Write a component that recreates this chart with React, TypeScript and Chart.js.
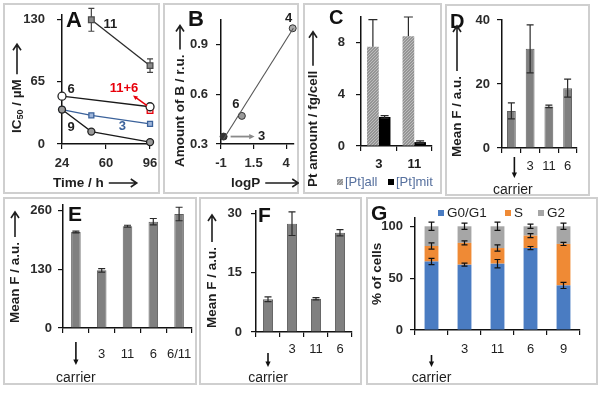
import React, { useEffect, useRef } from "react";
import { Chart, registerables } from "chart.js";

Chart.register(...registerables);

const FONT = '"Liberation Sans", Arial, Helvetica, sans-serif';
const INK = "#1e1e1e";
const TICK_INK = "#2b2b2b";
const CARRIER = "carrier";

// ---------- Panel A : IC50 vs time ----------
const aTime11 = [48, 96];
const aIC11 = [130, 82];
const aErr11 = [12, 7];
const aTime6 = [24, 96];
const aIC6 = [50, 39];
const aTime116 = [96];
const aIC116 = [35];
const aTime3 = [24, 48, 96];
const aIC3 = [36, 30, 21];
const aTime9 = [24, 48, 96];
const aIC9 = [36, 13, 2];
const aXTicks = [24, 60, 96];
const aYTicks = [0, 65, 130];

// ---------- Panel B : amount of B vs logP ----------
const bNames = ["3", "6", "4"];
const bLogP = [-0.8, 0.6, 4.5];
const bAmount = [0.345, 0.47, 1.0];
const bFitLogP = [-0.8, 4.55];
const bFitAmount = [0.33, 1.0];
const bXTicks = [-1, 1.5, 4];
const bYTicks = [0.3, 0.6, 0.9];

// ---------- Panel C : Pt amount ----------
const cCats = ["3", "11"];
const cSeries = ["[Pt]all", "[Pt]mit"];
const cPtAll = [7.7, 8.5];
const cPtAllErr = [2.1, 1.5];
const cPtMit = [2.25, 0.3];
const cPtMitErr = [0.1, 0.1];
const cYTicks = [0, 4, 8];

// ---------- Panel D ----------
const dCats = [CARRIER, "3", "11", "6"];
const dMeanF = [11.6, 31, 13, 18.7];
const dErr = [2.5, 7.5, 0.4, 2.8];
const dYTicks = [0, 20, 40];

// ---------- Panel E ----------
const eCats = [CARRIER, "3", "11", "6", "6/11"];
const eMeanF = [213, 128, 226, 236, 253];
const eErr = [2, 4, 2, 7, 15];
const eYTicks = [0, 130, 260];

// ---------- Panel F ----------
const fCats = [CARRIER, "3", "11", "6"];
const fMeanF = [8.3, 27.4, 8.4, 25.1];
const fErr = [0.6, 3, 0.3, 0.8];
const fYTicks = [0, 15, 30];

// ---------- Panel G : cell cycle ----------
const gCats = [CARRIER, "3", "11", "6", "9"];
const gSeries = ["G0/G1", "S", "G2"];
const gG0G1 = [66, 63, 64, 79, 43];
const gS = [15, 21, 15, 12, 40];
const gG2 = [19, 16, 21, 9, 17];
const gErrG0G1 = [3, 1.5, 4, 1.5, 3];
const gErrS = [3, 2, 3, 2, 1.5];
const gErrG2 = [4, 3, 4, 2, 3];
const gYTicks = [0, 50, 100];

// ---------- helpers ----------
type Box = { x: number; y: number; w: number; h: number };
type Area = { l: number; t: number; r: number; b: number };

const fnt = (size: number, bold = true) => `${bold ? "bold " : ""}${size}px ${FONT}`;

function zeroPad(s: any) {
  s.paddingLeft = 0;
  s.paddingRight = 0;
  s.paddingTop = 0;
  s.paddingBottom = 0;
}

const yWidth = (box: Box, area: Area) => area.l - box.x - 2;
const xHeight = (box: Box, area: Area) => box.y + box.h - area.b - 2;

function yAxis(min: number, max: number, ticks: number[], yw: number, pad: number, stacked = false) {
  return {
    type: "linear",
    position: "left",
    stacked,
    min,
    max,
    afterBuildTicks: (s: any) => {
      s.ticks = ticks.map((v) => ({ value: v }));
    },
    afterFit: (s: any) => {
      s.width = yw;
      zeroPad(s);
    },
    border: { display: true, color: "#111", width: 1.5 },
    grid: { drawOnChartArea: false, drawTicks: true, tickLength: 5, color: "#111", lineWidth: 1.2 },
    ticks: {
      padding: pad,
      color: TICK_INK,
      font: { family: FONT, size: 13, weight: "bold" },
      autoSkip: false,
      callback: (v: any) => String(v),
    },
  };
}

function xLin(min: number, max: number, ticks: number[], xh: number, pad: number) {
  return {
    type: "linear",
    position: "bottom",
    min,
    max,
    afterBuildTicks: (s: any) => {
      s.ticks = ticks.map((v) => ({ value: v }));
    },
    afterFit: (s: any) => {
      s.height = xh;
      zeroPad(s);
    },
    border: { display: true, color: "#111", width: 1.5 },
    grid: { drawOnChartArea: false, drawTicks: true, tickLength: 5, color: "#111", lineWidth: 1.2 },
    ticks: {
      padding: pad,
      color: TICK_INK,
      font: { family: FONT, size: 13, weight: "bold" },
      autoSkip: false,
      maxRotation: 0,
      callback: (v: any) => String(v),
    },
  };
}

function xCat(cats: string[], xh: number, pad: number, bold = false, stacked = false) {
  return {
    type: "category",
    position: "bottom",
    stacked,
    afterFit: (s: any) => {
      s.height = xh;
      zeroPad(s);
    },
    border: { display: true, color: "#111", width: 1.5 },
    grid: { drawOnChartArea: false, drawTicks: true, tickLength: 5, color: "#111", lineWidth: 1.2, offset: true },
    ticks: {
      padding: pad,
      color: INK,
      font: { family: FONT, size: 13, weight: bold ? "bold" : "normal" },
      autoSkip: false,
      maxRotation: 0,
      callback: (_v: any, i: number) => (cats[i] === CARRIER ? "" : cats[i]),
    },
  };
}

function baseOptions(box: Box, area: Area) {
  const yw = yWidth(box, area);
  const xh = xHeight(box, area);
  return {
    responsive: false,
    animation: false,
    events: [],
    layout: {
      padding: {
        left: area.l - box.x - yw,
        top: area.t - box.y,
        right: box.x + box.w - area.r,
        bottom: box.y + box.h - area.b - xh,
      },
    },
    plugins: { legend: { display: false }, tooltip: { enabled: false }, title: { display: false } },
  };
}

type DrawFn = (ctx: CanvasRenderingContext2D, chart: any, box: Box) => void;

function annot(box: Box, after: DrawFn, before?: DrawFn) {
  return {
    id: "annot",
    beforeDatasetsDraw(chart: any) {
      if (!before) return;
      const ctx = chart.ctx;
      ctx.save();
      ctx.translate(-box.x, -box.y);
      before(ctx, chart, box);
      ctx.restore();
    },
    afterDraw(chart: any) {
      const ctx = chart.ctx;
      ctx.save();
      ctx.translate(-box.x, -box.y);
      after(ctx, chart, box);
      ctx.restore();
    },
  };
}

const PX = (chart: any, box: Box) => (v: number) => chart.scales.x.getPixelForValue(v) + box.x;
const PY = (chart: any, box: Box) => (v: number) => chart.scales.y.getPixelForValue(v) + box.y;

function drawText(
  ctx: CanvasRenderingContext2D,
  s: string,
  x: number,
  y: number,
  size: number,
  bold = true,
  color = INK,
  align: CanvasTextAlign = "center"
) {
  ctx.font = fnt(size, bold);
  ctx.fillStyle = color;
  ctx.textAlign = align;
  ctx.textBaseline = "middle";
  ctx.fillText(s, x, y);
}

function letter(ctx: CanvasRenderingContext2D, s: string, x: number, yBase: number, size = 22) {
  ctx.font = fnt(size, true);
  ctx.fillStyle = "#111";
  ctx.textAlign = "left";
  ctx.textBaseline = "alphabetic";
  ctx.fillText(s, x, yBase);
}

function arrow(
  ctx: CanvasRenderingContext2D,
  x1: number,
  y1: number,
  x2: number,
  y2: number,
  color: string,
  lw: number,
  head = 5
) {
  const ang = Math.atan2(y2 - y1, x2 - x1);
  ctx.strokeStyle = color;
  ctx.fillStyle = color;
  ctx.lineWidth = lw;
  ctx.beginPath();
  ctx.moveTo(x1, y1);
  ctx.lineTo(x2 - Math.cos(ang) * head * 0.8, y2 - Math.sin(ang) * head * 0.8);
  ctx.stroke();
  ctx.beginPath();
  ctx.moveTo(x2, y2);
  ctx.lineTo(x2 - Math.cos(ang - 0.45) * head, y2 - Math.sin(ang - 0.45) * head);
  ctx.lineTo(x2 - Math.cos(ang + 0.45) * head, y2 - Math.sin(ang + 0.45) * head);
  ctx.closePath();
  ctx.fill();
}

type Part = [string, number, number];

function titleRun(ctx: CanvasRenderingContext2D, parts: Part[], arrowLen: number) {
  let cx = 0;
  ctx.fillStyle = INK;
  ctx.textAlign = "left";
  ctx.textBaseline = "middle";
  for (const [s, size, dy] of parts) {
    ctx.font = fnt(size, true);
    ctx.fillText(s, cx, dy);
    cx += ctx.measureText(s).width;
  }
  if (arrowLen > 0) {
    const a = cx + 5;
    const b = a + arrowLen;
    ctx.strokeStyle = INK;
    ctx.lineWidth = 1.6;
    ctx.beginPath();
    ctx.moveTo(a, 0);
    ctx.lineTo(b, 0);
    ctx.moveTo(b - 6, -4);
    ctx.lineTo(b, 0);
    ctx.lineTo(b - 6, 4);
    ctx.stroke();
  }
}

function vTitle(ctx: CanvasRenderingContext2D, parts: Part[], x: number, yBottom: number, arrowLen: number) {
  ctx.save();
  ctx.translate(x, yBottom);
  ctx.rotate(-Math.PI / 2);
  titleRun(ctx, parts, arrowLen);
  ctx.restore();
}

function hTitle(ctx: CanvasRenderingContext2D, parts: Part[], x: number, y: number, arrowLen: number) {
  ctx.save();
  ctx.translate(x, y);
  titleRun(ctx, parts, arrowLen);
  ctx.restore();
}

function errBar(
  ctx: CanvasRenderingContext2D,
  x: number,
  yHi: number,
  yLo: number,
  cap: number,
  color = "#2a2a2a",
  lw = 1.2,
  lowCap = true
) {
  ctx.strokeStyle = color;
  ctx.lineWidth = lw;
  ctx.beginPath();
  ctx.moveTo(x, yHi);
  ctx.lineTo(x, yLo);
  ctx.moveTo(x - cap / 2, yHi);
  ctx.lineTo(x + cap / 2, yHi);
  if (lowCap) {
    ctx.moveTo(x - cap / 2, yLo);
    ctx.lineTo(x + cap / 2, yLo);
  }
  ctx.stroke();
}

function barErrors(
  ctx: CanvasRenderingContext2D,
  chart: any,
  box: Box,
  ds: number,
  errs: number[],
  cap: number,
  upOnly = false,
  color = "#2a2a2a"
) {
  const ys = chart.scales.y;
  const ppu = ys.getPixelForValue(0) - ys.getPixelForValue(1);
  chart.getDatasetMeta(ds).data.forEach((el: any, i: number) => {
    const x = el.x + box.x;
    const y = el.y + box.y;
    const e = errs[i] * ppu;
    if (upOnly) errBar(ctx, x, y - e, y, cap, color, 1.2, false);
    else errBar(ctx, x, y - e, y + e, cap, color, 1.2, true);
  });
}

function carrier(
  ctx: CanvasRenderingContext2D,
  chart: any,
  box: Box,
  cats: string[],
  yTop: number,
  yBot: number,
  textY: number,
  dx = 0
) {
  const i = cats.indexOf(CARRIER);
  const x = chart.scales.x.getPixelForValue(i) + box.x + dx;
  arrow(ctx, x, yTop, x, yBot, "#111", 1.6, 6);
  drawText(ctx, cats[i], x - dx / 2, textY, 14, false, INK);
}

let stippleCache: CanvasPattern | null = null;
function stipple(): CanvasPattern {
  if (stippleCache) return stippleCache;
  const c = document.createElement("canvas");
  c.width = 3;
  c.height = 3;
  const g = c.getContext("2d")!;
  g.fillStyle = "#959595";
  g.fillRect(0, 0, 3, 3);
  g.fillStyle = "#bdbdbd";
  g.fillRect(0, 0, 1, 1);
  g.fillRect(2, 1, 1, 1);
  g.fillRect(1, 2, 1, 1);
  stippleCache = g.createPattern(c, "repeat")!;
  return stippleCache;
}

const pts = (xs: number[], ys: number[]) => xs.map((x, i) => ({ x, y: ys[i] }));

// ---------- panel geometry ----------
const BOX_A: Box = { x: 3, y: 3, w: 157, h: 191 };
const BOX_B: Box = { x: 163, y: 3, w: 136, h: 191 };
const BOX_C: Box = { x: 303, y: 3, w: 139, h: 191 };
const BOX_D: Box = { x: 445, y: 4, w: 145, h: 192 };
const BOX_E: Box = { x: 3, y: 197, w: 194, h: 188 };
const BOX_F: Box = { x: 199, y: 197, w: 163, h: 188 };
const BOX_G: Box = { x: 366, y: 197, w: 232, h: 188 };

const AREA_A: Area = { l: 62, t: 15, r: 152, b: 144 };
const AREA_B: Area = { l: 221, t: 20, r: 295, b: 144 };
const AREA_C: Area = { l: 361, t: 17, r: 432, b: 146 };
const AREA_D: Area = { l: 502, t: 20, r: 577, b: 148 };
const AREA_E: Area = { l: 63, t: 205, r: 192, b: 328 };
const AREA_F: Area = { l: 256, t: 211, r: 352, b: 332 };
const AREA_G: Area = { l: 415, t: 218, r: 580, b: 330 };

// ---------- configs ----------
function configA(): any {
  const box = BOX_A;
  const area = AREA_A;
  return {
    type: "scatter",
    data: {
      datasets: [
        {
          data: pts(aTime9, aIC9),
          showLine: true,
          borderColor: "#1a1a1a",
          borderWidth: 1.3,
          pointStyle: "circle",
          pointRadius: 3.5,
          pointBackgroundColor: "#9a9a9a",
          pointBorderColor: "#222",
          clip: false,
        },
        {
          data: pts(aTime3, aIC3),
          showLine: true,
          borderColor: "#3b629b",
          borderWidth: 1.3,
          pointStyle: "rect",
          pointRadius: 3.5,
          pointBackgroundColor: "#9fb6da",
          pointBorderColor: "#3b629b",
          clip: false,
        },
        {
          data: pts(aTime6, aIC6),
          showLine: true,
          borderColor: "#1a1a1a",
          borderWidth: 1.3,
          pointStyle: "circle",
          pointRadius: 4,
          pointBackgroundColor: "#ffffff",
          pointBorderColor: "#222",
          clip: false,
        },
        {
          data: pts(aTime116, aIC116),
          showLine: false,
          pointStyle: "rect",
          pointRadius: 4,
          pointBackgroundColor: "#f6d2d2",
          pointBorderColor: "#e8000b",
          pointBorderWidth: 1.3,
          clip: false,
        },
        {
          data: pts(aTime11, aIC11),
          showLine: true,
          borderColor: "#2b2b2b",
          borderWidth: 1.3,
          pointStyle: "rect",
          pointRadius: 4,
          pointBackgroundColor: "#8a8a8a",
          pointBorderColor: "#4a4a4a",
          clip: false,
        },
      ],
    },
    options: {
      ...baseOptions(box, area),
      scales: {
        x: xLin(24, 97.6, aXTicks, xHeight(box, area), 7),
        y: yAxis(0, 135, aYTicks, yWidth(box, area), 12),
      },
    },
    plugins: [
      annot(
        box,
        (ctx, chart, b) => {
          const X = PX(chart, b);
          const Y = PY(chart, b);
          letter(ctx, "A", 66, 27);
          vTitle(ctx, [["IC", 13.5, 0], ["50", 9, 4], [" / µM", 13.5, 0]], 17, 133, 30);
          hTitle(ctx, [["Time / h", 13.5, 0]], 53, 183, 28);
          drawText(ctx, "11", X(aTime11[0]) + 19, Y(aIC11[0]) + 5, 13);
          drawText(ctx, "6", X(aTime6[0]) + 9, Y(aIC6[0]) - 7, 13);
          drawText(ctx, "3", X(aTime3[1]) + 31, Y(aIC3[1]) + 11, 13, true, "#3b629b");
          drawText(ctx, "9", X(aTime9[0]) + 9, Y(aIC9[0]) + 18, 13);
          const rx = X(aTime116[0]);
          const ry = Y(aIC116[0]);
          drawText(ctx, "11+6", rx - 26, ry - 22, 13, true, "#e8000b");
          arrow(ctx, rx - 3, ry - 5, rx - 17, ry - 15, "#e8000b", 1.5, 5);
        },
        (ctx, chart, b) => {
          const X = PX(chart, b);
          const Y = PY(chart, b);
          aTime11.forEach((t, i) =>
            errBar(ctx, X(t), Y(aIC11[i] + aErr11[i]), Y(aIC11[i] - aErr11[i]), 6, "#444")
          );
        }
      ),
    ],
  };
}

function configB(): any {
  const box = BOX_B;
  const area = AREA_B;
  return {
    type: "scatter",
    data: {
      datasets: [
        {
          data: pts(bFitLogP, bFitAmount),
          showLine: true,
          borderColor: "#555",
          borderWidth: 1.1,
          pointRadius: 0,
          clip: false,
        },
        {
          data: pts(bLogP, bAmount),
          showLine: false,
          pointStyle: "circle",
          pointRadius: 3.5,
          pointBackgroundColor: ["#333", "#9a9a9a", "#aaaaaa"],
          pointBorderColor: "#333",
          pointBorderWidth: 1,
          clip: false,
        },
      ],
    },
    options: {
      ...baseOptions(box, area),
      scales: {
        x: xLin(-1, 4.6, bXTicks, xHeight(box, area), 7),
        y: yAxis(0.3, 1.05, bYTicks, yWidth(box, area), 8),
      },
    },
    plugins: [
      annot(box, (ctx, chart, b) => {
        const X = PX(chart, b);
        const Y = PY(chart, b);
        letter(ctx, "B", 188, 26);
        vTitle(ctx, [["Amount of B / r.u.", 13.5, 0]], 180, 167, 24);
        hTitle(ctx, [["logP", 13.5, 0]], 231, 183, 33);
        arrow(ctx, X(bLogP[0]) + 7, Y(bAmount[0]), X(bLogP[0]) + 31, Y(bAmount[0]), "#8a8a8a", 1.8, 6);
        drawText(ctx, bNames[0], X(bLogP[0]) + 38, Y(bAmount[0]), 13);
        drawText(ctx, bNames[1], X(bLogP[1]) - 6, Y(bAmount[1]) - 11, 13);
        drawText(ctx, bNames[2], X(bLogP[2]) - 4, Y(bAmount[2]) - 10, 13);
      }),
    ],
  };
}

function configC(): any {
  const box = BOX_C;
  const area = AREA_C;
  return {
    type: "bar",
    data: {
      labels: cCats,
      datasets: [
        { label: cSeries[0], data: cPtAll, backgroundColor: stipple(), categoryPercentage: 0.66, barPercentage: 1 },
        { label: cSeries[1], data: cPtMit, backgroundColor: "#000", categoryPercentage: 0.66, barPercentage: 1 },
      ],
    },
    options: {
      ...baseOptions(box, area),
      scales: {
        x: xCat(cCats, xHeight(box, area), 6, true),
        y: yAxis(0, 10, cYTicks, yWidth(box, area), 11),
      },
    },
    plugins: [
      annot(box, (ctx, chart, b) => {
        letter(ctx, "C", 329, 24, 20);
        vTitle(ctx, [["Pt amount / fg/cell", 13.5, 0]], 313, 187, 34);
        barErrors(ctx, chart, b, 0, cPtAllErr, 9, true);
        barErrors(ctx, chart, b, 1, cPtMitErr, 8);
        ctx.fillStyle = stipple();
        ctx.fillRect(337, 179, 6, 6);
        drawText(ctx, cSeries[0], 345, 182, 13, false, "#56709e", "left");
        ctx.fillStyle = "#000";
        ctx.fillRect(388, 179, 6, 6);
        drawText(ctx, cSeries[1], 396, 182, 13, false, "#56709e", "left");
      }),
    ],
  };
}

function simpleBar(
  box: Box,
  area: Area,
  cats: string[],
  vals: number[],
  errs: number[],
  ymax: number,
  yTicks: number[],
  yPad: number,
  xPad: number,
  pct: number,
  draw: DrawFn
): any {
  return {
    type: "bar",
    data: {
      labels: cats,
      datasets: [
        {
          data: vals,
          backgroundColor: "#808080",
          borderColor: "#606060",
          borderWidth: 1,
          categoryPercentage: 1,
          barPercentage: pct,
        },
      ],
    },
    options: {
      ...baseOptions(box, area),
      scales: {
        x: xCat(cats, xHeight(box, area), xPad),
        y: yAxis(0, ymax, yTicks, yWidth(box, area), yPad),
      },
    },
    plugins: [
      annot(box, (ctx, chart, b) => {
        barErrors(ctx, chart, b, 0, errs, 7);
        draw(ctx, chart, b);
      }),
    ],
  };
}

function configD(): any {
  return simpleBar(BOX_D, AREA_D, dCats, dMeanF, dErr, 40, dYTicks, 7, 6, 0.47, (ctx, chart, b) => {
    letter(ctx, "D", 450, 28, 20);
    vTitle(ctx, [["Mean F / a.u.", 13.5, 0]], 457, 157, 45);
    carrier(ctx, chart, b, dCats, 157, 178, 190, 3);
  });
}

function configE(): any {
  return simpleBar(BOX_E, AREA_E, eCats, eMeanF, eErr, 273, eYTicks, 6, 14, 0.37, (ctx, chart, b) => {
    letter(ctx, "E", 68, 221, 21);
    vTitle(ctx, [["Mean F / a.u.", 13.5, 0]], 15, 323, 25);
    carrier(ctx, chart, b, eCats, 342, 365, 378);
  });
}

function configF(): any {
  return simpleBar(BOX_F, AREA_F, fCats, fMeanF, fErr, 30.6, fYTicks, 9, 5, 0.42, (ctx, chart, b) => {
    letter(ctx, "F", 258, 222, 21);
    vTitle(ctx, [["Mean F / a.u.", 13.5, 0]], 212, 328, 27);
    carrier(ctx, chart, b, fCats, 353, 367, 378);
  });
}

function configG(): any {
  const box = BOX_G;
  const area = AREA_G;
  const colors = ["#4a7cc2", "#ef8a35", "#a6a6a6"];
  const vals = [gG0G1, gS, gG2];
  return {
    type: "bar",
    data: {
      labels: gCats,
      datasets: vals.map((v, i) => ({
        label: gSeries[i],
        data: v,
        backgroundColor: colors[i],
        categoryPercentage: 1,
        barPercentage: 0.42,
      })),
    },
    options: {
      ...baseOptions(box, area),
      scales: {
        x: xCat(gCats, xHeight(box, area), 7, false, true),
        y: yAxis(0, 108, gYTicks, yWidth(box, area), 7, true),
      },
    },
    plugins: [
      annot(box, (ctx, chart, b) => {
        barErrors(ctx, chart, b, 0, gErrG0G1, 6, false, "#111");
        barErrors(ctx, chart, b, 1, gErrS, 6, false, "#111");
        barErrors(ctx, chart, b, 2, gErrG2, 6, false, "#111");
        letter(ctx, "G", 371, 220, 21);
        vTitle(ctx, [["% of cells", 13.5, 0]], 377, 305, 0);
        const lx = [438, 505, 538];
        gSeries.forEach((s, i) => {
          ctx.fillStyle = colors[i];
          ctx.fillRect(lx[i], 210, 6, 6);
          drawText(ctx, s, lx[i] + 9, 213, 13.5, false, INK, "left");
        });
        carrier(ctx, chart, b, gCats, 355, 367, 378);
      }),
    ],
  };
}

// ---------- React ----------
function Panel({ box, make }: { box: Box; make: () => any }) {
  const ref = useRef<HTMLCanvasElement>(null);
  useEffect(() => {
    const chart = new Chart(ref.current as HTMLCanvasElement, make());
    return () => chart.destroy();
  }, []);
  return (
    <canvas
      ref={ref}
      width={box.w}
      height={box.h}
      style={{ position: "absolute", left: box.x, top: box.y, width: box.w, height: box.h }}
    />
  );
}

const PANELS: { box: Box; make: () => any }[] = [
  { box: BOX_A, make: configA },
  { box: BOX_B, make: configB },
  { box: BOX_C, make: configC },
  { box: BOX_D, make: configD },
  { box: BOX_E, make: configE },
  { box: BOX_F, make: configF },
  { box: BOX_G, make: configG },
];

export default function App() {
  return (
    <div
      style={{
        position: "absolute",
        left: 0,
        top: 0,
        width: 600,
        height: 393,
        background: "#fff",
        overflow: "hidden",
      }}
    >
      {PANELS.map((p, i) => (
        <div
          key={"b" + i}
          style={{
            position: "absolute",
            left: p.box.x,
            top: p.box.y,
            width: p.box.w,
            height: p.box.h,
            border: "2px solid #cfcfcf",
            boxSizing: "border-box",
          }}
        />
      ))}
      {PANELS.map((p, i) => (
        <Panel key={"p" + i} box={p.box} make={p.make} />
      ))}
    </div>
  );
}
